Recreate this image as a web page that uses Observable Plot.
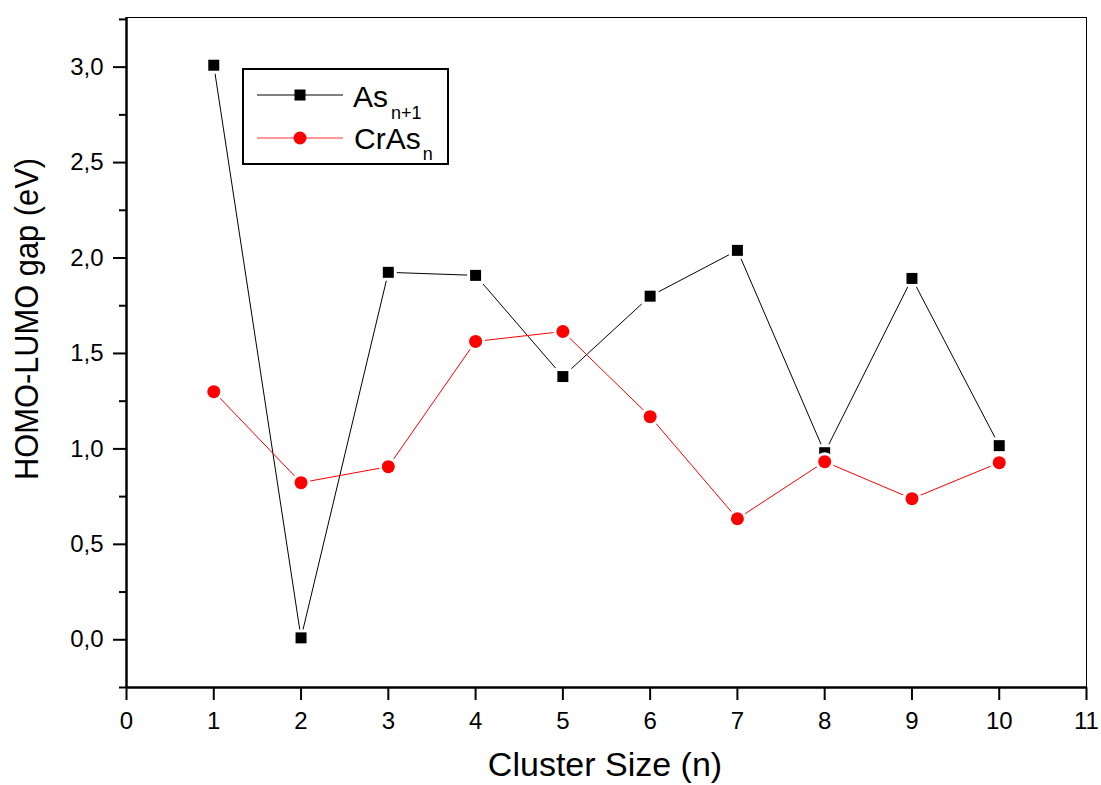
<!DOCTYPE html>
<html><head><meta charset="utf-8">
<script src="https://cdn.jsdelivr.net/npm/d3@7"></script>
<script src="https://cdn.jsdelivr.net/npm/@observablehq/plot@0.6"></script>
<style>body{margin:0;background:#fff} svg{font-family:"Liberation Sans",Arial,sans-serif}</style>
</head><body><div id="chart"></div>
<script>
const clusterSizes = [1, 2, 3, 4, 5, 6, 7, 8, 9, 10];
const asGap   = [3.01, 0.01, 1.925, 1.909, 1.379, 1.80, 2.04, 0.98, 1.893, 1.017];
const crAsGap = [1.30, 0.823, 0.907, 1.563, 1.615, 1.169, 0.634, 0.933, 0.739, 0.928];
const xTicks = [0, 1, 2, 3, 4, 5, 6, 7, 8, 9, 10, 11];
const yTicks = [0, 0.5, 1, 1.5, 2, 2.5, 3];
const yMinorTicks = [-0.25, 0.25, 0.75, 1.25, 1.75, 2.25, 2.75, 3.25];

const asData = clusterSizes.map((n, i) => ({n, v: asGap[i]}));
const crData = clusterSizes.map((n, i) => ({n, v: crAsGap[i]}));
const fmt = d => d.toFixed(1).replace(".", ",");

const chart = Plot.plot({
  width: 1101, height: 785,
  marginLeft: 126, marginRight: 15, marginTop: 17, marginBottom: 98,
  x: {domain: [0, 11]},
  y: {domain: [-0.25, 3.26]},
  style: {fontFamily: "'Liberation Sans', Arial, sans-serif", fontSize: "24px", color: "black", background: "white"},
  marks: [
    Plot.frame({stroke: "black", strokeWidth: 1}),
    Plot.axisY(yTicks, {tickSize: 13, tickPadding: 10, tickFormat: fmt, fontSize: 24, strokeWidth: 2, label: null}),
    Plot.axisY(yMinorTicks, {tickSize: 7, tickFormat: () => "", strokeWidth: 2, label: null}),
    Plot.axisX(xTicks, {tickSize: 13, tickPadding: 11, fontSize: 24, strokeWidth: 2, label: null}),
    Plot.ruleX([0], {stroke: "black", strokeWidth: 2.5}),
    Plot.ruleY([-0.25], {stroke: "black", strokeWidth: 2.5}),
    Plot.line(asData, {x: "n", y: "v", stroke: "black", strokeWidth: 1}),
    Plot.line(crData, {x: "n", y: "v", stroke: "#ff0000", strokeWidth: 1}),
    Plot.dot(asData, {x: "n", y: "v", symbol: "square", r: 6.2, fill: "black", stroke: "white", strokeWidth: 6, paintOrder: "stroke"}),
    Plot.dot(crData, {x: "n", y: "v", symbol: "circle", r: 6.5, fill: "#ff0000", stroke: "white", strokeWidth: 6, paintOrder: "stroke"})
  ]
});

const svg = d3.select(chart);
svg.append("text").attr("x", 605).attr("y", 776).attr("text-anchor", "middle")
  .attr("font-size", 34).attr("fill", "black").text("Cluster Size (n)");
svg.append("text").attr("transform", "translate(38,319) rotate(-90)").attr("text-anchor", "middle")
  .attr("font-size", 33).attr("textLength", 322).attr("lengthAdjust", "spacingAndGlyphs")
  .attr("fill", "black").text("HOMO-LUMO gap (eV)");

const lg = svg.append("g").attr("text-anchor", "start");
lg.append("rect").attr("x", 243).attr("y", 69).attr("width", 205).attr("height", 95)
  .attr("fill", "white").attr("stroke", "black").attr("stroke-width", 2);
lg.append("line").attr("x1", 257).attr("x2", 343).attr("y1", 95).attr("y2", 95).attr("stroke", "black");
lg.append("rect").attr("x", 294.5).attr("y", 89.5).attr("width", 11).attr("height", 11).attr("fill", "black");
lg.append("line").attr("x1", 257).attr("x2", 343).attr("y1", 138).attr("y2", 138).attr("stroke", "#ff3333");
lg.append("circle").attr("cx", 300).attr("cy", 138).attr("r", 6.5).attr("fill", "#ff0000");
const t1 = lg.append("text").attr("x", 353).attr("y", 107).attr("font-size", 30).attr("fill", "black").attr("text-anchor", "start");
t1.append("tspan").text("As");
t1.append("tspan").attr("dx", 3).attr("dy", 12).attr("font-size", 18).text("n+1");
const t2 = lg.append("text").attr("x", 354).attr("y", 149).attr("font-size", 30).attr("fill", "black").attr("text-anchor", "start");
t2.append("tspan").text("CrAs");
t2.append("tspan").attr("dx", 2).attr("dy", 11).attr("font-size", 18).text("n");

document.getElementById("chart").appendChild(chart);
</script>
</body></html>
